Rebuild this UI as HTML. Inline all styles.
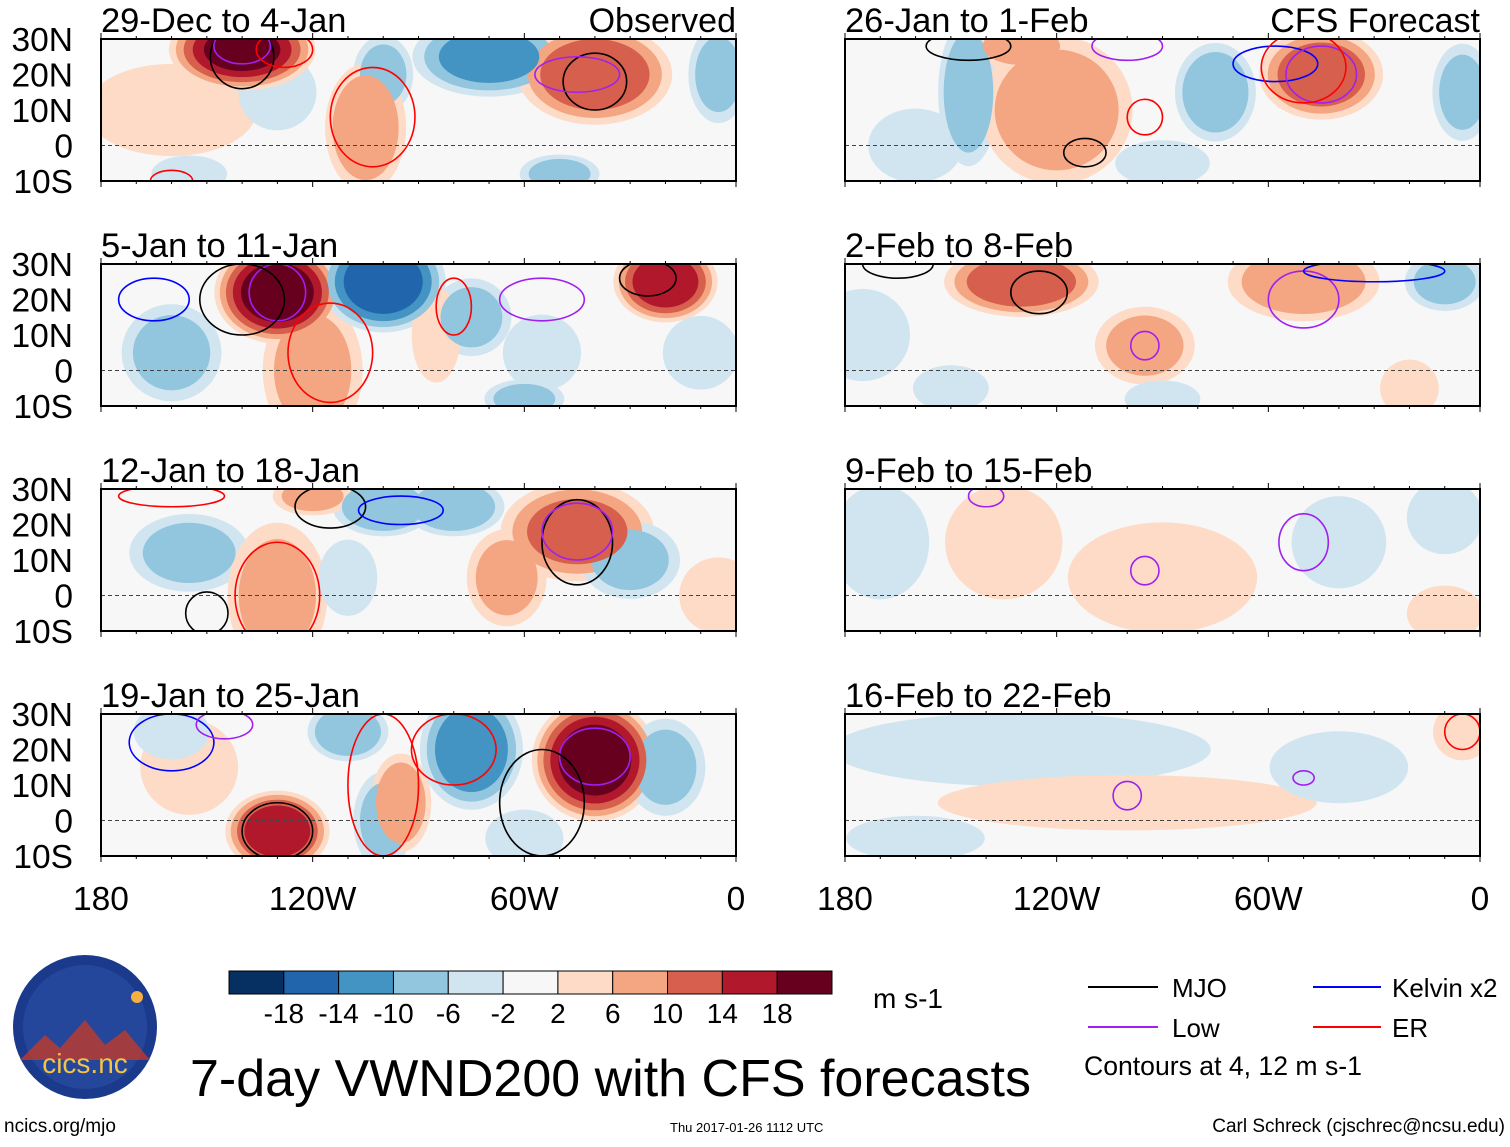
<!DOCTYPE html>
<html><head><meta charset="utf-8">
<style>
html,body{margin:0;padding:0;background:#fff;}
body{width:1510px;height:1142px;overflow:hidden;font-family:"Liberation Sans",sans-serif;}
</style></head>
<body>
<svg id="chart" width="1510" height="1142" viewBox="0 0 1510 1142" xmlns="http://www.w3.org/2000/svg" font-family="Liberation Sans, sans-serif">
<g id="panels"></g>
<g id="bottom">
  <g>
    <circle cx="85" cy="1027" r="72" fill="#1b3a8c"/>
    <circle cx="85" cy="1027" r="62" fill="#24479c"/>
    <path d="M20,1060 L45,1035 L60,1048 L85,1020 L105,1045 L125,1030 L150,1060 Z" fill="#c0392b" opacity="0.8"/>
    <circle cx="137" cy="997" r="6" fill="#f5b041"/>
    <text x="85" y="1073" font-size="28" fill="#f5c242" text-anchor="middle">cics.nc</text>
  </g>
  <g id="colorbar"></g>
  <text x="873" y="1008" font-size="28">m s-1</text>
  <text x="190" y="1096" font-size="52">7-day VWND200 with CFS forecasts</text>
  <g>
    <line x1="1088" y1="987" x2="1158" y2="987" stroke="#000" stroke-width="2"/>
    <text x="1172" y="997" font-size="26">MJO</text>
    <line x1="1088" y1="1027" x2="1158" y2="1027" stroke="#a020f0" stroke-width="2"/>
    <text x="1172" y="1037" font-size="26">Low</text>
    <line x1="1313" y1="987" x2="1381" y2="987" stroke="#0000ff" stroke-width="2"/>
    <text x="1392" y="997" font-size="26">Kelvin x2</text>
    <line x1="1313" y1="1027" x2="1381" y2="1027" stroke="#ff0000" stroke-width="2"/>
    <text x="1392" y="1037" font-size="26">ER</text>
    <text x="1084" y="1075" font-size="26.6">Contours at 4, 12 m s-1</text>
  </g>
  <text x="4" y="1132" font-size="19">ncics.org/mjo</text>
  <text x="670" y="1132" font-size="13">Thu 2017-01-26 1112 UTC</text>
  <text x="1505" y="1132" font-size="19" text-anchor="end">Carl Schreck (cjschrec@ncsu.edu)</text>
</g>
</svg>
<script>
const NS="http://www.w3.org/2000/svg";
const panelTitles=["29-Dec to 4-Jan","5-Jan to 11-Jan","12-Jan to 18-Jan","19-Jan to 25-Jan","26-Jan to 1-Feb","2-Feb to 8-Feb","9-Feb to 15-Feb","16-Feb to 22-Feb"];
const latTicks=["30N","20N","10N","0","10S"];
const latVals=[30,20,10,0,-10];
const lonTicks=["180","120W","60W","0"];
const lonVals=[-180,-120,-60,0];
const levels=[2,6,10,14,18];
const posColors=["#fddbc7","#f4a582","#d6604d","#b2182b","#67001f"];
const negColors=["#d1e5f0","#92c5de","#4393c3","#2166ac","#053061"];
const cbarColors=["#053061","#2166ac","#4393c3","#92c5de","#d1e5f0","#f7f7f7","#fddbc7","#f4a582","#d6604d","#b2182b","#67001f"];
const cbarLabels=["-18","-14","-10","-6","-2","2","6","10","14","18"];
// anomaly blobs per panel: [lon, lat, amplitude, lonRadius, latRadius]
const blobs0=[[-160,10,4,18,10],[-130,15,-6,8,8],[-140,27,20,14,8],[-100,20,-8,6,8],[-105,5,10,8,13],[-70,25,-12,15,8],[-40,20,14,15,10],[-50,-8,-8,8,4],[-5,20,-8,6,10],[-155,-8,-4,8,4]];
const blobs1=[[-160,5,-8,10,10],[-130,22,22,12,10],[-120,0,8,10,15],[-100,25,-18,12,10],[-75,15,-8,8,8],[-85,10,6,5,10],[-55,5,-6,8,8],[-20,25,18,10,8],[-60,-8,-8,8,4],[-10,5,-4,8,8]];
const blobs2=[[-155,12,-8,12,8],[-130,0,8,10,15],[-110,5,-6,6,8],[-100,25,-10,10,6],[-80,25,-10,10,6],[-65,5,8,8,10],[-45,18,12,15,10],[-30,10,-8,10,8],[-5,0,6,8,8],[-120,28,8,8,4]];
const blobs3=[[-155,15,6,10,10],[-130,-3,18,10,8],[-110,25,-10,8,6],[-100,0,-8,6,10],[-95,5,10,6,10],[-75,20,-14,10,12],[-40,17,22,12,12],[-20,15,-8,8,10],[-60,-5,-6,8,6],[-160,25,-4,8,6]];
const blobs4=[[-145,15,-10,6,15],[-120,10,10,15,15],[-130,28,8,10,5],[-75,15,-10,8,10],[-45,20,14,12,9],[-5,15,-8,6,10],[-160,0,-4,10,8],[-90,-5,-4,10,5]];
const blobs5=[[-175,10,-4,10,10],[-130,25,14,15,7],[-95,7,8,10,8],[-50,25,10,15,8],[-10,25,-8,8,6],[-20,-5,6,6,6],[-150,-5,-4,8,5],[-90,-8,-4,8,4]];
const blobs6=[[-170,15,-6,10,12],[-135,15,6,12,12],[-90,5,4,20,12],[-40,15,-4,10,10],[-10,-5,4,8,6],[-10,22,-4,8,8]];
const blobs7=[[-130,20,-4,40,8],[-100,5,4,40,6],[-40,15,-3,15,8],[-5,25,6,6,6],[-160,-5,-3,15,5]];
const panelBlobs=[blobs0,blobs1,blobs2,blobs3,blobs4,blobs5,blobs6,blobs7];
// contours: [lon, lat, lonRadius, latRadius, type]
const cont0=[[-140,25,9,9,"MJO"],[-140,28,8,5,"Low"],[-40,18,9,8,"MJO"],[-45,20,12,5,"Low"],[-103,8,12,14,"ER"],[-128,27,8,5,"ER"],[-160,-10,6,3,"ER"]];
const cont1=[[-130,22,8,8,"Low"],[-140,20,12,10,"MJO"],[-165,20,10,6,"Kelvin"],[-115,5,12,14,"ER"],[-25,26,8,5,"MJO"],[-55,20,12,6,"Low"],[-80,18,5,8,"ER"]];
const cont2=[[-45,15,10,12,"MJO"],[-45,18,10,8,"Low"],[-130,0,12,15,"ER"],[-150,-5,6,6,"MJO"],[-115,25,10,6,"MJO"],[-160,28,15,3,"ER"],[-95,24,12,4,"Kelvin"]];
const cont3=[[-40,18,10,8,"Low"],[-55,5,12,15,"MJO"],[-130,-3,10,8,"MJO"],[-160,22,12,8,"Kelvin"],[-145,27,8,4,"Low"],[-100,10,10,20,"ER"],[-80,20,12,10,"ER"]];
const cont4=[[-112,-2,6,4,"MJO"],[-145,28,12,4,"MJO"],[-100,28,10,4,"Low"],[-58,23,12,5,"Kelvin"],[-45,20,10,8,"Low"],[-50,22,12,10,"ER"],[-95,8,5,5,"ER"]];
const cont5=[[-125,22,8,6,"MJO"],[-95,7,4,4,"Low"],[-50,20,10,8,"Low"],[-165,30,10,4,"MJO"],[-30,28,20,3,"Kelvin"]];
const cont6=[[-95,7,4,4,"Low"],[-50,15,7,8,"Low"],[-140,28,5,3,"Low"]];
const cont7=[[-100,7,4,4,"Low"],[-50,12,3,2,"Low"],[-5,25,5,5,"ER"]];
const panelConts=[cont0,cont1,cont2,cont3,cont4,cont5,cont6,cont7];
const contColor={MJO:"#000000",Low:"#a020f0",Kelvin:"#0000ff",ER:"#ff0000"};

function el(tag,attrs,parent){const e=document.createElementNS(NS,tag);for(const k in attrs)e.setAttribute(k,attrs[k]);if(parent)parent.appendChild(e);return e;}
const root=document.getElementById('panels');
const rowTop=[39,264,489,714];const colLeft=[101,845];const PW=635,PH=142;
for(let p=0;p<8;p++){
  const col=p<4?0:1,row=p%4;
  const x0=colLeft[col],y0=rowTop[row];
  const xs=lon=>x0+(lon+180)/180*PW;
  const ys=lat=>y0+(30-lat)/40*PH;
  const g=el('g',{},root);
  
  
  const cid='clip'+p;
  const cp=el('clipPath',{id:cid},g);el('rect',{x:x0,y:y0,width:PW,height:PH},cp);
  el('rect',{x:x0,y:y0,width:PW,height:PH,fill:'#f7f7f7'},g);
  const fills=el('g',{'clip-path':'url(#'+cid+')'},g);
  for(let li=0;li<levels.length;li++){
    panelBlobs[p].forEach(b=>{
      const A=Math.abs(b[2]);const L=levels[li];
      if(A<=L)return;
      const f=Math.sqrt(1-L/(A+4));
      const e=el('ellipse',{cx:xs(b[0]),cy:ys(b[1]),rx:b[3]*PW/180*f*1.55,ry:b[4]*PH/40*f*1.5,fill:b[2]>0?posColors[li]:negColors[li]},fills);
      
      
    });
  }
  el('line',{x1:x0,y1:ys(0),x2:x0+PW,y2:ys(0),stroke:'#444','stroke-dasharray':'4,3','stroke-width':1},fills);
  panelConts[p].forEach(c=>{
    const e=el('ellipse',{cx:xs(c[0]),cy:ys(c[1]),rx:c[2]*PW/180,ry:c[3]*PH/40,fill:'none',stroke:contColor[c[4]],'stroke-width':1.6},fills);
    
    
  });
  el('rect',{x:x0,y:y0,width:PW,height:PH,fill:'none',stroke:'#000','stroke-width':2},g);
  for(let lon=-180;lon<=0;lon+=10){
    const big=(lon%60===0);
    el('line',{x1:xs(lon),y1:y0,x2:xs(lon),y2:y0-(big?6:3),stroke:'#000'},g);
    el('line',{x1:xs(lon),y1:y0+PH,x2:xs(lon),y2:y0+PH+(big?6:3),stroke:'#000'},g);
  }
  const t=el('text',{x:x0,y:y0-7,'font-size':34.5},g);t.textContent=panelTitles[p];
  
  
  if(p===0){const o=el('text',{x:x0+PW,y:y0-7,'font-size':34},g);o.setAttribute('text-anchor','end');o.textContent='Observed';}
  if(p===4){const o=el('text',{x:x0+PW,y:y0-7,'font-size':34},g);o.setAttribute('text-anchor','end');o.textContent='CFS Forecast';}
  if(col===0){
    latVals.forEach((v,i)=>{const tt=el('text',{x:73,y:ys(v)+12,'font-size':33.5,'text-anchor':'end'},g);tt.textContent=latTicks[i];
      
      });
  }
  if(row===3){
    lonVals.forEach((v,i)=>{const tt=el('text',{x:xs(v),y:910,'font-size':33.5,'text-anchor':'middle'},g);tt.textContent=lonTicks[i];
      
      });
  }
}
const cb=document.getElementById('colorbar');
const cbx=229,cbw=603/11;
cbarColors.forEach((c,i)=>{const r=el('rect',{x:cbx+i*cbw,y:971,width:cbw,height:23,fill:c,stroke:'#000','stroke-width':1},cb);
  
  });
cbarLabels.forEach((l,i)=>{const t=el('text',{x:cbx+(i+1)*cbw,y:1023,'font-size':28,'text-anchor':'middle'},cb);t.textContent=l;
  
  });
</script>
</body></html>
